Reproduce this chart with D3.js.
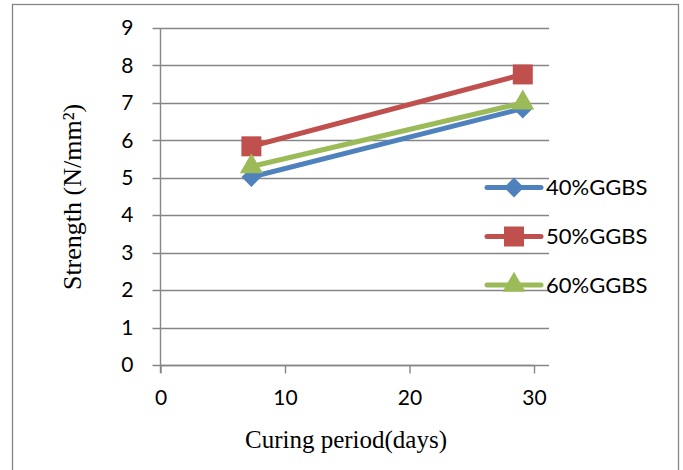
<!DOCTYPE html>
<html>
<head>
<meta charset="utf-8">
<script src="https://cdn.jsdelivr.net/npm/d3@7"></script>
<style>
  html, body { margin: 0; padding: 0; background: #fff; }
  svg { display: block; }
</style>
</head>
<body>
<svg id="chart" width="683" height="470"></svg>
<script>
// Curing period (days) at which each mix was tested
const days = [7.3, 29.1];
// Strength (N/mm²) per GGBS replacement level
const ggbs40 = [5.02, 6.85];
const ggbs50 = [5.84, 7.76];
const ggbs60 = [5.3, 7.0];
const seriesNames = ["40%GGBS", "50%GGBS", "60%GGBS"];
const xTicks = [0, 10, 20, 30];
const yTicks = [0, 1, 2, 3, 4, 5, 6, 7, 8, 9];

const series = [
  { name: seriesNames[0], values: ggbs40, color: "#4F81BD", symbol: d3.symbolDiamond2, size: 250 },
  { name: seriesNames[1], values: ggbs50, color: "#C0504D", symbol: d3.symbolSquare, size: 400 },
  { name: seriesNames[2], values: ggbs60, color: "#9BBB59", symbol: d3.symbolTriangle, size: 230 }
];

const svg = d3.select("#chart");
const axisColor = "#868686";
const sans = "Lato, 'Open Sans', sans-serif";
const serif = "'Liberation Serif', 'Times New Roman', serif";

// chart frame
svg.append("rect")
  .attr("x", 12.5).attr("y", 4.5)
  .attr("width", 666).attr("height", 480)
  .attr("fill", "#fff").attr("stroke", axisColor).attr("stroke-width", 1.3);

const x = d3.scaleLinear().domain([0, 30]).range([160.5, 534]);
const y = d3.scaleLinear().domain([0, 9]).range([365, 28]);
const plotRight = 549;

// horizontal gridlines (with outside tick stubs)
svg.append("g").selectAll("line").data(yTicks).join("line")
  .attr("x1", x(0) - 8).attr("x2", plotRight)
  .attr("y1", d => Math.round(y(d)) + 0.5).attr("y2", d => Math.round(y(d)) + 0.5)
  .attr("stroke", axisColor).attr("stroke-width", 1.4);

// y axis
const yAxis = d3.axisLeft(y).tickValues(yTicks).tickSize(0).tickPadding(27);
const gy = svg.append("g").attr("transform", `translate(${x(0)},0)`).call(yAxis);
gy.select(".domain").remove();
gy.selectAll("text")
  .attr("font-family", sans).attr("font-size", 21).attr("fill", "#000");
svg.append("line")
  .attr("x1", x(0)).attr("x2", x(0))
  .attr("y1", y(9)).attr("y2", y(0) + 8)
  .attr("stroke", axisColor).attr("stroke-width", 1.4);

// x axis
const xAxis = d3.axisBottom(x).tickValues(xTicks).tickSize(8).tickPadding(17);
const gx = svg.append("g").attr("transform", `translate(0,${Math.round(y(0)) + 0.5})`).call(xAxis);
gx.select(".domain").attr("stroke", axisColor).attr("stroke-width", 1.4)
  .attr("d", `M${x(0)},0H${x(30)}`);
gx.selectAll(".tick line").attr("stroke", axisColor).attr("stroke-width", 1.4);
gx.selectAll("text")
  .attr("font-family", sans).attr("font-size", 21).attr("fill", "#000");

// axis titles
svg.append("text")
  .attr("x", 346).attr("y", 448)
  .attr("text-anchor", "middle")
  .attr("font-family", serif).attr("font-size", 25).attr("fill", "#000")
  .text("Curing period(days)");

svg.append("text")
  .attr("transform", "translate(81,197) rotate(-90)")
  .attr("text-anchor", "middle")
  .attr("font-family", serif).attr("font-size", 26).attr("fill", "#000")
  .text("Strength (N/mm²)");

// series lines and markers
const line = d3.line().x((d, i) => x(days[i])).y(d => y(d));
series.forEach(s => {
  const g = svg.append("g");
  g.append("path")
    .attr("d", line(s.values))
    .attr("fill", "none").attr("stroke", s.color)
    .attr("stroke-width", 5).attr("stroke-linecap", "round");
  g.selectAll("path.pt").data(s.values).join("path")
    .attr("class", "pt")
    .attr("transform", (d, i) => `translate(${x(days[i])},${y(d)})`)
    .attr("d", d3.symbol().type(s.symbol).size(s.size))
    .attr("fill", s.color);
});

// legend
const legendY = [187.5, 236.5, 285];
const legend = svg.append("g");
series.forEach((s, i) => {
  const row = legend.append("g").attr("transform", `translate(0,${legendY[i]})`);
  row.append("line")
    .attr("x1", 487).attr("x2", 541).attr("y1", 0).attr("y2", 0)
    .attr("stroke", s.color).attr("stroke-width", 5).attr("stroke-linecap", "round");
  row.append("path")
    .attr("transform", "translate(514,0)")
    .attr("d", d3.symbol().type(s.symbol).size(s.size))
    .attr("fill", s.color);
  row.append("text")
    .attr("x", 546).attr("y", 0).attr("dy", "0.36em")
    .attr("font-family", sans).attr("font-size", 22).attr("fill", "#000")
    .text(s.name);
});
</script>
</body>
</html>
